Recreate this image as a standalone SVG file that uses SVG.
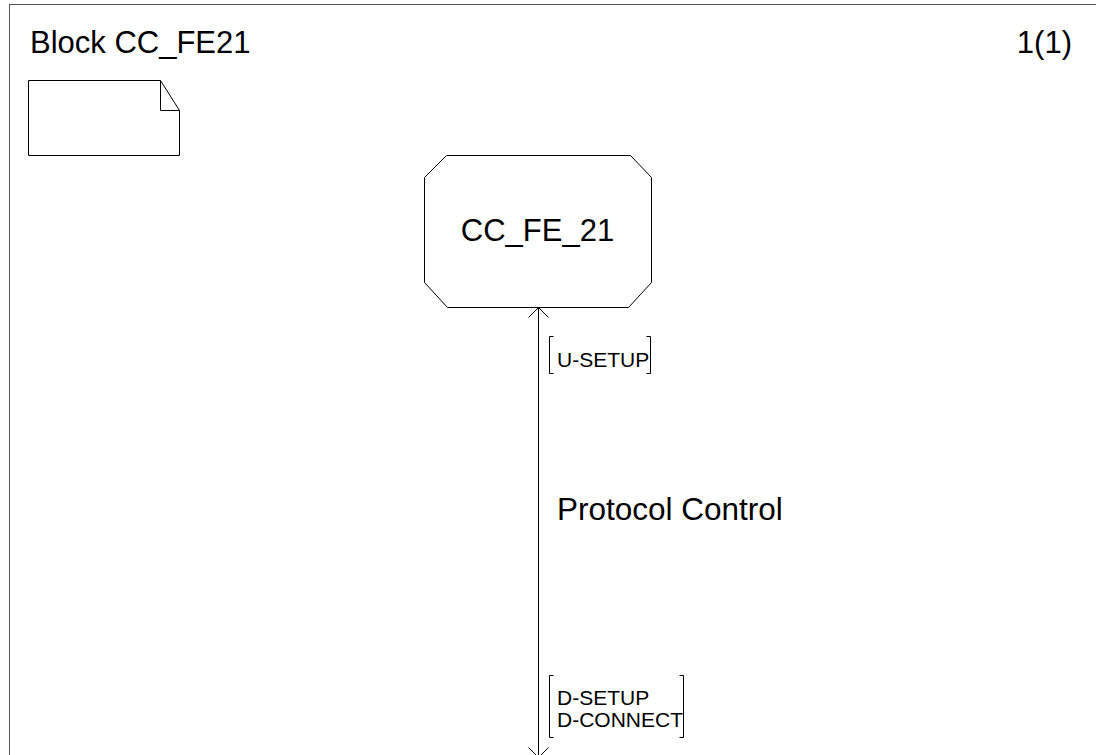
<svg xmlns="http://www.w3.org/2000/svg" width="1096" height="755" viewBox="0 0 1096 755">
<style>
.ln{fill:none;stroke:#000;stroke-width:1}
.t{font-family:"Liberation Sans",Arial,sans-serif;fill:#000}
.lbl{font-size:21px}
</style>
<rect x="0" y="0" width="1096" height="755" fill="#fff"/>
<g id="frame">
<rect x="9.5" y="4.5" width="1100" height="800" fill="none" stroke="#555" stroke-width="1"/>
<text class="t" x="30" y="53" font-size="31">Block CC_FE21</text>
<text class="t" x="1072" y="53" font-size="31" text-anchor="end">1(1)</text>
</g>
<g id="note">
<path class="ln" d="M28.5,80.5 H160.5 L179.5,110.5 V155.5 H28.5 Z M160.5,80.5 V110.5 H179.5"/>
</g>
<g id="process">
<path class="ln" d="M446.5,155.5 H630.5 L651.5,177.5 V282.5 L628.5,307.5 H447.5 L424.5,282.5 V177.5 Z"/>
<text class="t" x="537.5" y="241" font-size="31" text-anchor="middle">CC_FE_21</text>
</g>
<g id="connectors">
<line class="ln" x1="538.5" y1="307.5" x2="538.5" y2="757"/>
<path class="ln" d="M528.5,317.5 L538.5,307.5 L548.5,317.5"/>
<path class="ln" d="M528.5,747.5 L538.5,757.5 L548.5,747.5"/>
<text class="t" x="557" y="520" font-size="31.5">Protocol Control</text>
<path class="ln" d="M553.5,336.5 H549.5 V373.5 H553.5 M646.5,336.5 H650.5 V373.5 H646.5"/>
<text class="t lbl" x="557" y="367">U-SETUP</text>
<path class="ln" d="M553.5,675.5 H549.5 V737.5 H553.5 M679.5,675.5 H683.5 V737.5 H679.5"/>
<text class="t lbl" x="557" y="705">D-SETUP</text>
<text class="t lbl" x="557" y="727">D-CONNECT</text>
</g>
</svg>
